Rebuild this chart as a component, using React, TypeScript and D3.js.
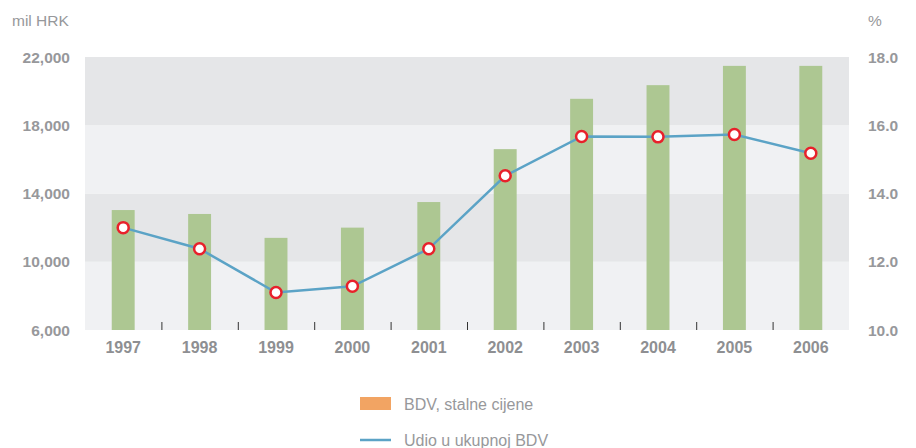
import React from "react";
import * as d3 from "d3";

const years = ["1997", "1998", "1999", "2000", "2001", "2002", "2003", "2004", "2005", "2006"];
const bdv = [13030, 12800, 11400, 12000, 13500, 16600, 19550, 20350, 21480, 21480];
const udio = [13.0, 12.38, 11.1, 11.28, 12.38, 14.52, 15.67, 15.66, 15.73, 15.18];
const leftTicks = [6000, 10000, 14000, 18000, 22000];
const rightTicks = [10, 12, 14, 16, 18];
const legendLabels = ["BDV, stalne cijene", "Udio u ukupnoj BDV"];

const W = 916, H = 448;
const L = 85, R = 849, T = 57, B = 330;

export default function App() {
  const x = d3.scaleBand().domain(years).range([L, R]).paddingInner(0).paddingOuter(0);
  const yL = d3.scaleLinear().domain([6000, 22000]).range([B, T]);
  const yR = d3.scaleLinear().domain([10, 18]).range([B, T]);
  const bw = x.bandwidth() * 0.3;
  const cx = (y: string) => (x(y) as number) + x.bandwidth() / 2;
  const line = d3.line<number>().x((_, i) => cx(years[i])).y((d) => yR(d));
  const bands = leftTicks.slice(0, -1).map((v, i) => ({ lo: v, hi: leftTicks[i + 1], dark: i % 2 === 1 }));
  const font = "'Liberation Sans', Arial, Helvetica, sans-serif";
  const gray = "#97989b";

  return (
    <svg width={W} height={H} style={{ position: "absolute", left: 0, top: 0, background: "#fff" }} fontFamily={font}>
      {bands.map((b, i) => (
        <rect key={i} x={L} width={R - L} y={yL(b.hi)} height={yL(b.lo) - yL(b.hi)} fill={b.dark ? "#e5e6e8" : "#f0f1f3"} />
      ))}
      {years.map((y, i) => (
        <rect key={y} x={cx(y) - bw / 2} width={bw} y={yL(bdv[i])} height={B - yL(bdv[i])} fill="#adc792" />
      ))}
      {years.slice(1).map((y) => (
        <line key={y} x1={(x(y) as number) + 0.5} x2={(x(y) as number) + 0.5} y1={B - 8} y2={B} stroke="#333" strokeWidth={1} />
      ))}
      <path d={line(udio) as string} fill="none" stroke="#5ba3c6" strokeWidth={2.5} />
      {udio.map((v, i) => (
        <circle key={i} cx={cx(years[i])} cy={yR(v)} r={5.5} fill="#fff" stroke="#e8212b" strokeWidth={2.5} />
      ))}
      {leftTicks.map((t) => (
        <text key={t} x={70} y={yL(t) + 5.5} textAnchor="end" fontSize={15.5} fontWeight="bold" fill={gray}>
          {d3.format(",")(t)}
        </text>
      ))}
      {rightTicks.map((t) => (
        <text key={t} x={868} y={yR(t) + 5.5} textAnchor="start" fontSize={15.5} fontWeight="bold" fill={gray}>
          {d3.format(".1f")(t)}
        </text>
      ))}
      {years.map((y) => (
        <text key={y} x={cx(y)} y={353} textAnchor="middle" fontSize={16} fontWeight="bold" fill="#8e8f92">
          {y}
        </text>
      ))}
      <text x={12} y={26} fontSize={15.5} fill={gray}>mil HRK</text>
      <text x={868} y={26} fontSize={15.5} fill={gray}>%</text>
      <rect x={360} y={397} width={31} height={13} fill="#f2a463" />
      <text x={404} y={410} fontSize={16} fill={gray}>{legendLabels[0]}</text>
      <line x1={360} x2={391} y1={440} y2={440} stroke="#5ba3c6" strokeWidth={2.5} />
      <text x={404} y={446} fontSize={16} fill={gray}>{legendLabels[1]}</text>
    </svg>
  );
}
